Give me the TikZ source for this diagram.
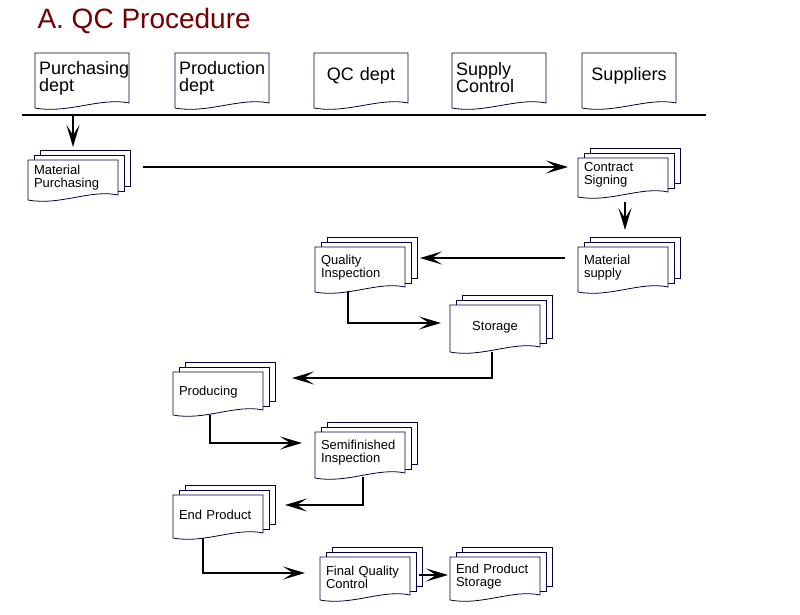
\documentclass[tikz,border=0pt]{standalone}
\usepackage{fontspec}
\setmainfont{Liberation Sans}
\usetikzlibrary{arrows.meta}
\begin{document}
\begin{tikzpicture}[x=1pt,y=-1pt,
  docline/.style={draw=black!75!blue,line width=0.8pt,fill=white},
  box/.style={minimum width=#1,minimum height=46pt,inner sep=3pt,align=left,text width=#1-12pt,font=\fontsize{13}{13}\selectfont},
  head/.style={minimum width=94pt,minimum height=52pt,inner sep=3pt,align=left,text width=86pt,font=\fontsize{18}{17}\selectfont},
  arr/.style={line width=1.8pt,-{Stealth[length=22pt,width=13pt,inset=10pt]}}]
\useasboundingbox (0,0) rectangle (800,615);
\fill[white] (0,0) rectangle (800,615);
\newcommand\onedoc[4]{\path[docline] (#1,#2) -- (#3,#2) -- (#3,#4-5) .. controls ({#3-0.3*(#3-#1)},{#4-11}) and ({#1+0.35*(#3-#1)},{#4+6}) .. (#1,#4) -- cycle;}
\newcommand\multidoc[4]{\path[docline] (#1+12,#2-10) rectangle (#3+12,#4-14);
  \path[docline] (#1+6,#2-5) rectangle (#3+6,#4-9);
  \onedoc{#1}{#2}{#3}{#4}}
\node[anchor=west,text=red!45!black,font=\fontsize{28}{28}\selectfont] (title) at (34,21) {A. QC Procedure};
% header docs
\onedoc{35}{53}{129}{108}\node[head] (pd) at (82,78) {Purchasing\\dept};
\onedoc{175}{53}{269}{108}\node[head] (prd) at (222,78) {Production\\dept};
\onedoc{314}{53}{408}{108}\node[head,align=center] (qcd) at (361,76) {QC dept};
\onedoc{452}{53}{546}{108}\node[head] (sc) at (499,78) {Supply\\Control};
\onedoc{582}{53}{676}{108}\node[head,align=center] (sup) at (629,76) {Suppliers};
\draw[line width=1.8pt] (22,115) coordinate (l1) -- (706,115) coordinate (l2);
\coordinate (pdfoot) at (73,115);
% multidocs
\multidoc{28}{160}{118}{200}\node[box=90pt] (mp) at (73,178) {Material\\Purchasing};
\multidoc{578}{158}{668}{197}\node[box=90pt] (cs) at (623,175) {Contract\\Signing};
\multidoc{578}{247}{668}{292}\node[box=90pt] (ms) at (623,268) {Material\\supply};
\multidoc{315}{247}{405}{292}\node[box=90pt] (qi) at (360,268) {Quality\\Inspection};
\multidoc{450}{305}{540}{352}\node[box=90pt,align=center] (st) at (495,327) {Storage};
\multidoc{173}{372}{263}{415}\node[box=90pt] (pr) at (218,392) {Producing};
\multidoc{315}{432}{405}{478}\node[box=90pt] (si) at (360,453) {Semifinished\\Inspection};
\multidoc{173}{495}{263}{538}\node[box=90pt] (ep) at (218,515) {End Product};
\multidoc{320}{557}{410}{600}\node[box=90pt] (fq) at (365,577) {Final Quality\\Control};
\multidoc{450}{557}{540}{600}\node[box=90pt] (es) at (495,577) {End Product\\Storage};
% arrows
\draw[arr] (pdfoot) -- (73,147);
\draw[arr] (143,167) -- (568,167);
\draw[arr] (625,202) -- (625,230);
\draw[arr] (565,258) -- (420,258);
\draw[arr] (348,291) |- (441,323);
\draw[arr] (492,352) |- (292,378);
\draw[arr] (210,415) |- (302,443);
\draw[arr] (363,477) |- (285,505);
\draw[arr] (203,538) |- (305,573);
\draw[arr] (419,575) -- (448,575);
\end{tikzpicture}
\end{document}
